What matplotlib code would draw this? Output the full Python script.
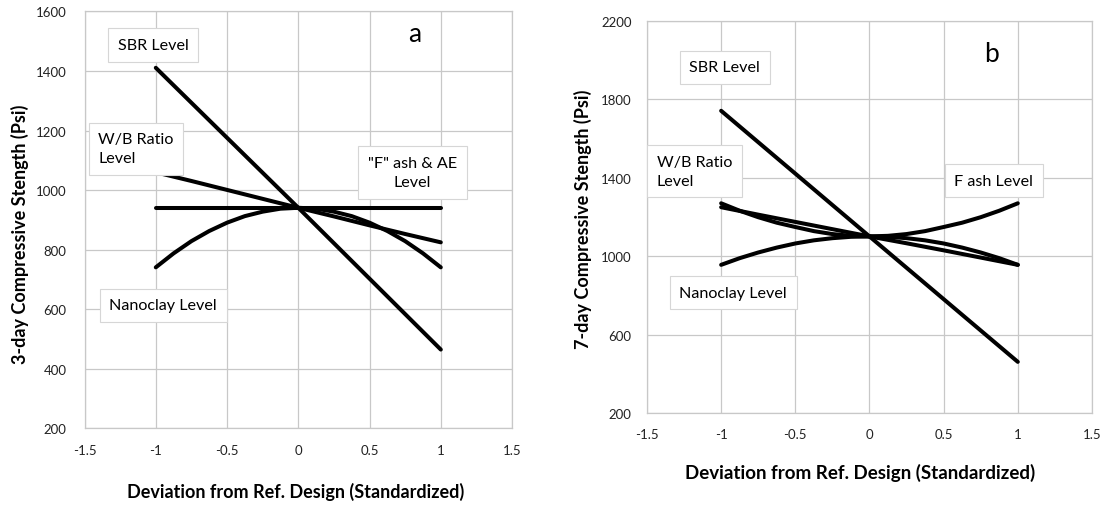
import matplotlib
matplotlib.use("Agg")
import matplotlib.pyplot as plt

plt.rcParams['font.family'] = ['Lato', 'DejaVu Sans']

# ______________________________ DATA ______________________________ #
x3 = [-1, 0, 1]
x9 = [-1, -0.75, -0.5, -0.25, 0, 0.25, 0.5, 0.75, 1]
x17 = [-1, -0.875, -0.75, -0.625, -0.5, -0.375, -0.25, -0.125, 0,
       0.125, 0.25, 0.375, 0.5, 0.625, 0.75, 0.875, 1]

# panel a : 3-day strength (psi)
a_sbr = [1411, 941, 465]
a_wb = [1060, 1031, 1001, 971, 941, 912, 882, 853, 825]
a_fash_ae = [941, 941, 941]
a_nano = [741, 788, 829, 863, 891, 913, 928, 938, 941,
          938, 928, 913, 891, 863, 829, 788, 741]

# panel b : 7-day strength (psi)
b_sbr = [1742, 1101, 461]
b_wb = [1250, 1212, 1175, 1138, 1101, 1066, 1030, 993, 956]
b_nano = [956, 990, 1019, 1044, 1065, 1081, 1092, 1099, 1101,
          1099, 1092, 1081, 1065, 1044, 1019, 990, 956]
b_fash = [1270, 1232, 1199, 1171, 1149, 1128, 1113, 1104, 1101,
          1104, 1113, 1128, 1149, 1171, 1199, 1232, 1270]

xticks = [-1.5, -1, -0.5, 0, 0.5, 1, 1.5]
xtick_labels = ['-1.5', '-1', '-0.5', '0', '0.5', '1', '1.5']
a_yticks = [200, 400, 600, 800, 1000, 1200, 1400, 1600]
b_yticks = [200, 600, 1000, 1400, 1800, 2200]

xlabel = 'Deviation from Ref. Design (Standardized)'
a_ylabel = '3-day Compressive Stength (Psi)'
b_ylabel = '7-day Compressive Stength (Psi)'

grid_col = '#c8c8c8'
box = dict(boxstyle='square,pad=0.6', fc='white', ec='#d6d6d6', lw=0.8)
fs = 11.6


def style_axes(ax, yticks, ypad):
    ax.set_xlim(-1.5, 1.5)
    ax.set_ylim(yticks[0], yticks[-1])
    ax.set_xticks(xticks)
    ax.set_xticklabels(xtick_labels)
    ax.set_yticks(yticks)
    ax.set_yticklabels([str(v) for v in yticks])
    ax.grid(True, color=grid_col, lw=0.9)
    ax.set_axisbelow(True)
    for s in ax.spines.values():
        s.set_color(grid_col)
        s.set_linewidth(0.9)
    ax.tick_params(axis='x', length=0, pad=11, labelsize=9.5, labelcolor='#222222')
    ax.tick_params(axis='y', length=0, pad=ypad, labelsize=9.5, labelcolor='#222222')


fig = plt.figure(figsize=(11.05, 5.06), dpi=100)

# ______________________________ PANEL A ______________________________ #
ax1 = fig.add_axes([0.0765, 0.1512, 0.3869, 0.8241])
style_axes(ax1, a_yticks, 13)
lw = 2.9
ax1.plot(x3, a_sbr, color='black', lw=lw, solid_capstyle='round')
ax1.plot(x9, a_wb, color='black', lw=lw, solid_capstyle='round')
ax1.plot(x3, a_fash_ae, color='black', lw=lw, solid_capstyle='round')
ax1.plot(x17, a_nano, color='black', lw=lw, solid_capstyle='round')

ax1.text(-1.019, 1488, 'SBR Level', fontsize=fs, ha='center', va='center', bbox=box)
ax1.text(-1.403, 1139, 'W/B Ratio\nLevel', fontsize=fs, ha='left', va='center',
         linespacing=1.45, bbox=box)
ax1.text(0.80, 1059, '"F" ash & AE\nLevel', fontsize=fs, ha='center', va='center',
         linespacing=1.45, multialignment='center', bbox=box)
ax1.text(-0.949, 614, 'Nanoclay Level', fontsize=fs, ha='center', va='center', bbox=box)
ax1.text(0.819, 1527, 'a', fontsize=19, ha='center', va='center')

# ______________________________ PANEL B ______________________________ #
ax2 = fig.add_axes([0.5855, 0.1818, 0.4027, 0.7747])
style_axes(ax2, b_yticks, 11)
ax2.plot(x3, b_sbr, color='black', lw=lw, solid_capstyle='round')
ax2.plot(x9, b_wb, color='black', lw=lw, solid_capstyle='round')
ax2.plot(x17, b_nano, color='black', lw=lw, solid_capstyle='round')
ax2.plot(x17, b_fash, color='black', lw=lw, solid_capstyle='round')

ax2.text(-0.977, 1964, 'SBR Level', fontsize=fs, ha='center', va='center', bbox=box)
ax2.text(-1.435, 1434, 'W/B Ratio\nLevel', fontsize=fs, ha='left', va='center',
         linespacing=1.45, bbox=box)
ax2.text(0.837, 1386, 'F ash Level', fontsize=fs, ha='center', va='center', bbox=box)
ax2.text(-0.918, 814, 'Nanoclay Level', fontsize=fs, ha='center', va='center', bbox=box)
ax2.text(0.821, 2032, 'b', fontsize=19, ha='center', va='center')

# ______________________________ LABELS ______________________________ #
fig.text(0.2675, 0.0283, xlabel, fontsize=13, fontweight='bold', ha='center', va='center')
fig.text(0.778, 0.0644, xlabel, fontsize=13.5, fontweight='bold', ha='center', va='center')
fig.text(0.0181, 0.5375, a_ylabel, fontsize=13, fontweight='bold', rotation=90,
         ha='center', va='center')
fig.text(0.528, 0.567, b_ylabel, fontsize=13, fontweight='bold', rotation=90,
         ha='center', va='center')

fig.savefig('out.png', dpi=100)
